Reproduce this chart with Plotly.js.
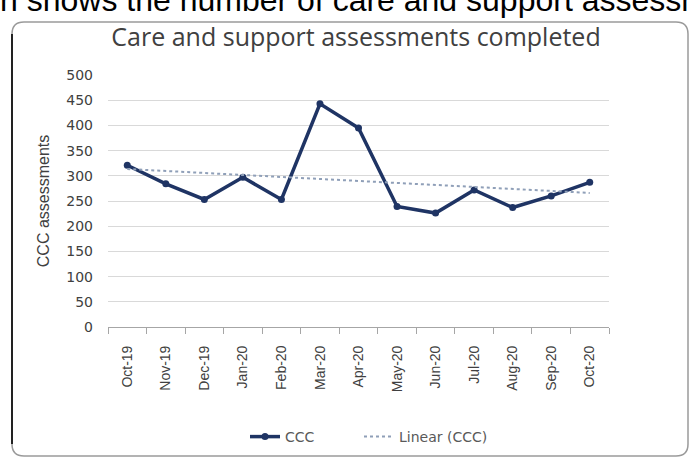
<!DOCTYPE html>
<html>
<head>
<meta charset="utf-8">
<script src="https://cdn.plot.ly/plotly-3.0.1.min.js"></script>
<style>html,body{margin:0;padding:0;background:#fff;}#chart{width:689px;height:459px;}</style>
</head>
<body>
<div id="chart"></div>
<script>
const months = ["Oct-19","Nov-19","Dec-19","Jan-20","Feb-20","Mar-20","Apr-20","May-20","Jun-20","Jul-20","Aug-20","Sep-20","Oct-20"];
const ccc = [321, 284, 253, 297, 253, 443, 395, 239, 226, 272, 237, 260, 287];
const yTicks = [0, 50, 100, 150, 200, 250, 300, 350, 400, 450, 500];

// least-squares linear trend of the series (as Excel's "Linear" trendline)
const n = ccc.length;
const xs = ccc.map((_, i) => i);
const mx = xs.reduce((a, b) => a + b, 0) / n;
const my = ccc.reduce((a, b) => a + b, 0) / n;
let sxy = 0, sxx = 0;
xs.forEach((x, i) => { sxy += (x - mx) * (ccc[i] - my); sxx += (x - mx) * (x - mx); });
const slope = sxy / sxx, icpt = my - slope * mx;
const trend = xs.map(x => icpt + slope * x);

const W = 689, H = 459, ML = 108, MR = 80, MT = 75, MB = 132;
const PW = W - ML - MR, PH = H - MT - MB;
const px = v => (v - ML) / PW;
const py = v => (H - MB - v) / PH;

const r = 12, L = 12, R = 688, T = 22, B = 456;
const framePath = `M ${px(L)},${py(T + r)} Q ${px(L)},${py(T)} ${px(L + r)},${py(T)} L ${px(R - r)},${py(T)} Q ${px(R)},${py(T)} ${px(R)},${py(T + r)} L ${px(R)},${py(B - r)} Q ${px(R)},${py(B)} ${px(R - r)},${py(B)} L ${px(L + r)},${py(B)} Q ${px(L)},${py(B)} ${px(L)},${py(B - r)} Z`;

const traces = [
  {x: months, y: ccc, type: 'scatter', mode: 'lines+markers', name: 'CCC', legend: 'legend',
   line: {color: '#1f3464', width: 3.5}, marker: {color: '#1f3464', size: 7, symbol: 'circle'}},
  {x: months, y: trend, type: 'scatter', mode: 'lines', name: 'Linear (CCC)', legend: 'legend2',
   line: {color: '#8f9fb8', width: 2, dash: 'dot'}}
];

const legFont = {family: 'DejaVu Sans, sans-serif', size: 14, color: '#595959'};
const layout = {
  width: W, height: H,
  margin: {l: ML, r: MR, t: MT, b: MB},
  paper_bgcolor: '#ffffff', plot_bgcolor: '#ffffff',
  font: {family: 'Open Sans, sans-serif', color: '#404040'},
  title: {text: 'Care and support assessments completed', x: 356 / W, xref: 'container', xanchor: 'center',
          y: 1 - 37 / H, yref: 'container', yanchor: 'middle', font: {size: 25, color: '#404040'}},
  xaxis: {type: 'category', range: [-0.5, 12.5], tickson: 'boundaries', ticks: 'outside', ticklen: 6,
          tickcolor: '#a6a6a6', showline: true, linecolor: '#a6a6a6', linewidth: 1, showgrid: false, automargin: false,
          tickangle: -90, tickfont: {family: 'Liberation Sans Narrow, Liberation Sans, sans-serif', size: 14, color: '#404040'},
          ticklabelstandoff: 12, fixedrange: true},
  yaxis: {range: [0, 500], tickvals: yTicks, ticktext: yTicks.map(String), showgrid: true, gridcolor: '#d9d9d9',
          gridwidth: 1, zeroline: false, showline: false, ticks: '', automargin: false,
          tickfont: {family: 'DejaVu Sans, sans-serif', size: 14, color: '#404040'},
          ticklabelstandoff: 14,
          title: {text: 'CCC assessments', font: {family: 'Liberation Sans Narrow, Liberation Sans, sans-serif', size: 16, color: '#404040'}, standoff: 12}, fixedrange: true},
  showlegend: true,
  legend: {orientation: 'h', xref: 'container', yref: 'container', x: 245 / W, xanchor: 'left', y: 1 - 437 / H, yanchor: 'middle',
           font: legFont, bgcolor: 'rgba(0,0,0,0)'},
  legend2: {orientation: 'h', xref: 'container', yref: 'container', x: 359 / W, xanchor: 'left', y: 1 - 437 / H, yanchor: 'middle',
           font: legFont, bgcolor: 'rgba(0,0,0,0)'},
  shapes: [
    {type: 'path', xref: 'paper', yref: 'paper', path: framePath, line: {color: '#9a9a9a', width: 1.5}, layer: 'below'},
    {type: 'line', xref: 'paper', yref: 'paper', x0: px(L), x1: px(L), y0: py(T + r), y1: py(B - r), line: {color: '#222222', width: 2}}
  ],
  annotations: [
    {text: 'n shows the number of care and support assessments', xref: 'paper', yref: 'paper',
     x: px(-2), y: py(20), xanchor: 'left', yanchor: 'bottom', showarrow: false,
     font: {family: 'Liberation Sans, Arial, sans-serif', size: 32, color: '#000000'}}
  ]
};

Plotly.newPlot('chart', traces, layout, {displayModeBar: false, staticPlot: true});
</script>
</body>
</html>
